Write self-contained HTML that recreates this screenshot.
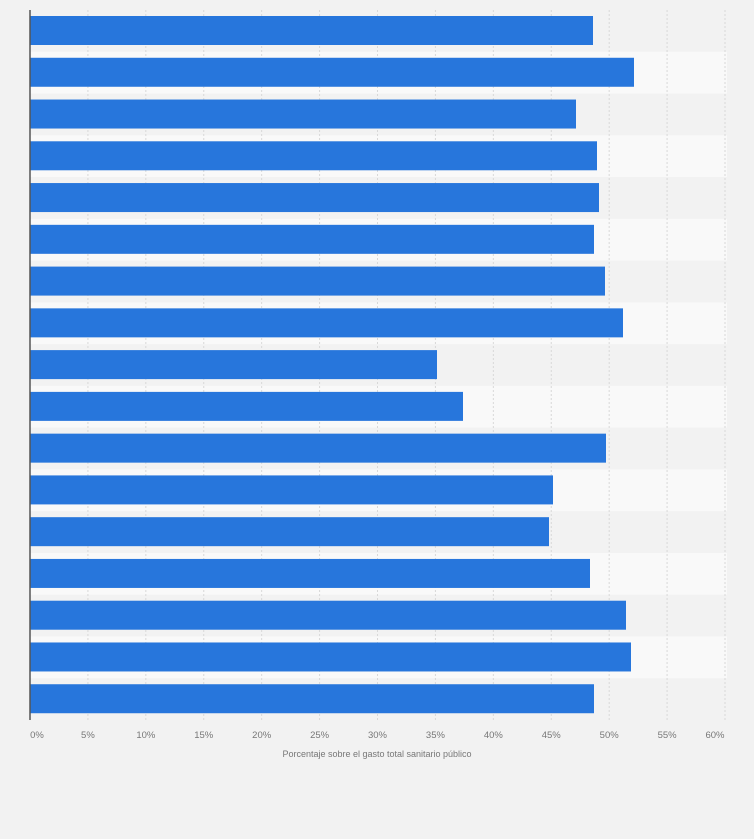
<!DOCTYPE html>
<html><head><style>
body{margin:0;background:#f2f2f2;}
svg{display:block;font-family:"Liberation Sans",sans-serif;}
</style></head><body>
<svg width="754" height="839" xmlns="http://www.w3.org/2000/svg">
<rect width="754" height="839" fill="#f2f2f2"/>
<g id="stripes"></g>
<g id="grid"></g>
<g id="bars"></g>
<line x1="30" y1="10" x2="30" y2="720" stroke="#555" stroke-width="1.5"/>
<g id="labels" font-size="9.5" fill="#777" text-anchor="middle"></g>
<text x="377" y="757" font-size="9" fill="#777" text-anchor="middle">Porcentaje sobre el gasto total sanitario público</text>
<script>
var ns="http://www.w3.org/2000/svg";
function el(p,t,a){var e=document.createElementNS(ns,t);for(var k in a)e.setAttribute(k,a[k]);document.getElementById(p).appendChild(e);return e;}
var ends=[593,634,576,597,599,594,605,623,437,463,606,553,549,590,626,631,594];
var rh=710/17;
for(var i=0;i<17;i++){var y=10+i*rh;
 if(i%2==1)el("stripes","rect",{x:30,y:y,width:697,height:rh,fill:"#f9f9f9"});
 el("bars","rect",{x:30,y:y+6,width:ends[i]-30,height:29,fill:"#2776dc"});}
for(var j=1;j<=12;j++){var x=30+j*695/12;
 el("grid","line",{x1:x,y1:10,x2:x,y2:720,stroke:"#d8d8d8","stroke-dasharray":"2,2","stroke-width":1});}
for(var j=0;j<=12;j++){var x=30+j*695/12;var t=el("labels","text",{x:(j==0?37:(j==12?715:x)),y:738});t.textContent=(j*5)+"%";}
</script>
</svg>
</body></html>
